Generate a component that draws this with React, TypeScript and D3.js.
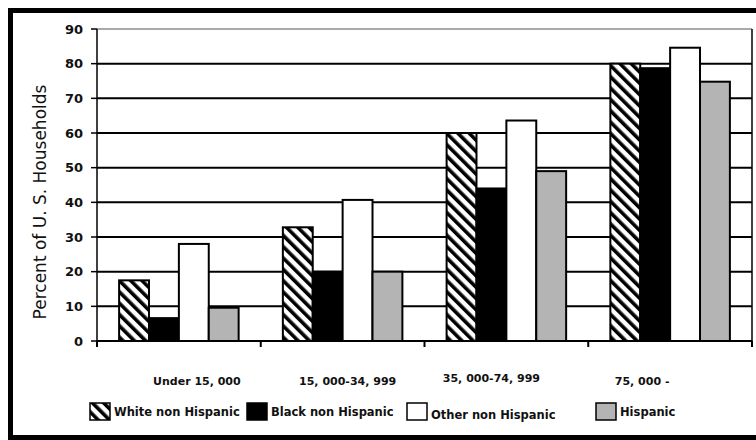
import React from "react";
import * as d3 from "d3";

const categories = ["Under 15, 000", "15, 000-34, 999", "35, 000-74, 999", "75, 000 -"];
const seriesNames = ["White non Hispanic", "Black non Hispanic", "Other non Hispanic", "Hispanic"];
const whiteNH = [17.5, 32.8, 60, 80];
const blackNH = [6.6, 20, 44, 78.7];
const otherNH = [28, 40.7, 63.6, 84.6];
const hispanic = [9.6, 20, 49, 74.8];
const yTicks = [0, 10, 20, 30, 40, 50, 60, 70, 80, 90];

const W = 756;
const H = 440;
const left = 97;
const right = 752;
const top = 29;
const bottom = 341;
const font = "'DejaVu Sans', Verdana, sans-serif";
// layout nudges for the category labels (as in the original, they are not exactly centred)
const labelNudgeX = [18, 5, -15, -28];
const labelNudgeY = [0, 0, -3, 0];

export default function App() {
  const values = [whiteNH, blackNH, otherNH, hispanic];
  const x = d3.scaleBand<string>().domain(categories).range([left, right]).paddingInner(0.27).paddingOuter(0.135);
  const xs = d3.scaleBand<string>().domain(seriesNames).range([0, x.bandwidth()]).padding(0);
  const y = d3.scaleLinear().domain([0, 90]).range([bottom, top]);
  const fills = ["url(#hatch)", "#000000", "#ffffff", "#b4b4b4"];
  const step = x.step();
  const boundaries = d3.range(categories.length + 1).map((i) => left + i * step);

  const legendX = [90, 247, 407, 596];
  const legendTextDy = [0, 0, 3, 0];

  return (
    <svg width={W} height={H} style={{ position: "absolute", left: 0, top: 0, background: "#fff" }}>
      <defs>
        <pattern id="hatch" patternUnits="userSpaceOnUse" width="8" height="8" patternTransform="rotate(-45)">
          <rect width="8" height="8" fill="#fff" />
          <rect x="0" y="0" width="3.6" height="8" fill="#000" />
        </pattern>
      </defs>
      <rect x={0} y={0} width={W} height={H} fill="#fff" />
      {/* outer frame */}
      <rect x={10.5} y={10.5} width={W + 10} height={H - 13} fill="none" stroke="#000" strokeWidth={5} />
      {/* grid lines */}
      {yTicks.map((t) => (
        <line
          key={t}
          x1={left}
          x2={right}
          y1={y(t)}
          y2={y(t)}
          stroke={t === 90 ? "#555" : "#000"}
          strokeWidth={t === 90 ? 1 : 2}
        />
      ))}
      <line x1={right} x2={right} y1={top} y2={bottom + 4} stroke="#000" strokeWidth={1.5} />
      {/* y axis */}
      <line x1={left} x2={left} y1={top} y2={bottom} stroke="#000" strokeWidth={1.5} />
      {yTicks.map((t) => (
        <g key={"yt" + t}>
          <line x1={left - 6} x2={left} y1={y(t)} y2={y(t)} stroke="#000" strokeWidth={1.5} />
          <text x={83} y={y(t)} dy="0.35em" textAnchor="end" fontFamily={font} fontWeight="bold" fontSize={13} fill="#111">
            {t}
          </text>
        </g>
      ))}
      <text
        transform={`translate(46,202) rotate(-90)`}
        textAnchor="middle"
        fontFamily={font}
        fontSize={17}
        fill="#111"
      >
        Percent of U. S. Households
      </text>
      {/* bars */}
      {categories.map((c, ci) => (
        <g key={c} transform={`translate(${x(c)},0)`}>
          {seriesNames.map((s, si) => (
            <rect
              key={s}
              x={xs(s)}
              y={y(values[si][ci])}
              width={xs.bandwidth()}
              height={y(0) - y(values[si][ci])}
              fill={fills[si]}
              stroke="#000"
              strokeWidth={2}
            />
          ))}
        </g>
      ))}
      {/* x axis */}
      <line x1={left} x2={right} y1={bottom} y2={bottom} stroke="#000" strokeWidth={2} />
      {boundaries.map((b, i) => (
        <line key={"xb" + i} x1={b} x2={b} y1={bottom} y2={bottom + 6} stroke="#000" strokeWidth={2} />
      ))}
      {categories.map((c, ci) => (
        <text
          key={"xl" + c}
          x={(x(c) as number) + x.bandwidth() / 2 + labelNudgeX[ci]}
          y={385 + labelNudgeY[ci]}
          textAnchor="middle"
          fontFamily={font}
          fontWeight="bold"
          fontSize={11}
          fill="#111"
        >
          {c}
        </text>
      ))}
      {/* legend */}
      {seriesNames.map((s, i) => (
        <g key={"lg" + s} transform={`translate(${legendX[i]},403)`}>
          <rect x={0} y={0} width={20} height={17} fill={fills[i]} stroke="#000" strokeWidth={1.5} />
          <text x={24} y={13 + legendTextDy[i]} fontFamily={font} fontWeight="bold" fontSize={11.5} fill="#111">
            {s}
          </text>
        </g>
      ))}
    </svg>
  );
}
